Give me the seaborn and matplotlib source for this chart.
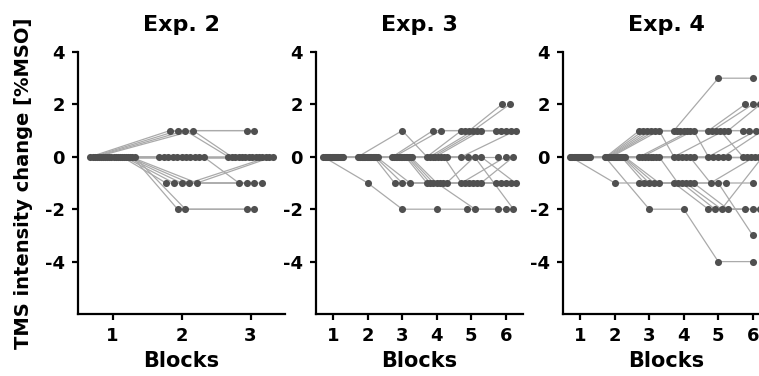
import numpy as np
import pandas as pd
import seaborn as sns
import matplotlib.pyplot as plt

# one row per subject, one value per block (change in %MSO)
EXP2_SUBJECTS = [
    [0, 1, 1], [0, 1, 1], [0, 1, 0], [0, 1, 0],
    [0, 0, 0], [0, 0, 0], [0, 0, 0], [0, 0, 0], [0, 0, 0],
    [0, 0, 0], [0, 0, 0], [0, 0, 0], [0, 0, 0], [0, 0, 0],
    [0, 0, -1],
    [0, -1, -1], [0, -1, -1], [0, -1, -1], [0, -1, 0], [0, -1, 0],
    [0, -2, -2], [0, -2, -2],
]
EXP3_SUBJECTS = [
    [0, -1, -2, -2, -2, -2],
    [0, 0, 1, 0, 1, 1],
    [0, 0, 0, 1, 1, 1],
    [0, 0, 0, 1, 1, 2],
    [0, 0, 0, 0, 1, 2],
    [0, 0, 0, 0, 1, 1],
    [0, 0, 0, 0, 1, 1],
    [0, 0, 0, 0, 0, 1],
    [0, 0, 0, 0, 0, 0],
    [0, 0, 0, 0, -1, 0],
    [0, 0, 0, -1, -1, -1],
    [0, 0, 0, -1, -1, -1],
    [0, 0, 0, -1, -1, -1],
    [0, 0, 0, -1, -2, -2],
    [0, 0, -1, -1, -1, -1],
    [0, 0, -1, -1, -1, 0],
    [0, 0, -1, -1, 0, -2],
    [0, 0, 0, 0, 0, -1],
]
EXP4_SUBJECTS = [
    [0, -1, -1, -1, -2, -2],
    [0, 0, -2, -2, -4, -4],
    [0, 0, 1, 1, 3, 3],
    [0, 0, 1, 1, 1, 2],
    [0, 0, 1, 1, 1, 2],
    [0, 0, 1, 1, 1, 1],
    [0, 0, 1, 1, 1, 0],
    [0, 0, 1, 0, 1, 1],
    [0, 0, 0, 1, 1, 2],
    [0, 0, 0, 1, 0, 1],
    [0, 0, 0, 0, 0, 0],
    [0, 0, 0, 0, 0, 0],
    [0, 0, 0, 0, 0, 1],
    [0, 0, 0, 0, -1, 0],
    [0, 0, 0, 0, 0, 0],
    [0, 0, 0, -1, -1, -3],
    [0, 0, -1, -1, -2, -2],
    [0, 0, -1, -1, -2, 0],
    [0, 0, -1, -1, -1, -1],
    [0, 0, -1, -1, -2, -2],
]
TITLES = ["Exp. 2", "Exp. 3", "Exp. 4"]
Y_TICKS = [-4, -2, 0, 2, 4]


def to_long(subjects):
    rows = []
    for s, vals in enumerate(subjects):
        for b, v in enumerate(vals, start=1):
            rows.append({"subject": s, "block": b, "change": v})
    return pd.DataFrame(rows)


def spread(df, gap, span):
    # put subjects with the same value side by side around the block
    df = df.copy()
    df["x"] = df["block"].astype(float)
    for (b, v), grp in df.groupby(["block", "change"]):
        k = len(grp)
        if k > 1:
            step = min(gap, span / (k - 1))
            df.loc[grp.index, "x"] = b + (np.arange(k) - (k - 1) / 2) * step
    return df


sns.set_theme(style="ticks")
plt.rcParams["font.family"] = ["DejaVu Sans"]
plt.rcParams["font.weight"] = "bold"
plt.rcParams["text.color"] = "black"
plt.rcParams["axes.labelcolor"] = "black"
plt.rcParams["axes.unicode_minus"] = False

fig = plt.figure(figsize=(7.59, 3.76), dpi=100)
W, H = 759, 376
panels = [
    (EXP2_SUBJECTS, 78, 0.112, 0.64),
    (EXP3_SUBJECTS, 316, 0.223, 0.57),
    (EXP4_SUBJECTS, 563, 0.223, 0.57),
]

for i, (subjects, left, gap, span) in enumerate(panels):
    ax = fig.add_axes([left / W, (H - 314) / H, 207 / W, 262 / H])
    d = spread(to_long(subjects), gap, span)
    nblocks = len(subjects[0])

    sns.lineplot(data=d, x="x", y="change", units="subject", estimator=None,
                 color="#aaaaaa", linewidth=0.9, ax=ax, zorder=1)
    sns.scatterplot(data=d, x="x", y="change", color="#505050", s=26,
                    linewidth=0, ax=ax, zorder=3, clip_on=False)

    ax.set_xlim(0.5, nblocks + 0.5)
    ax.set_ylim(-6, 4)
    ax.set_xticks(range(1, nblocks + 1))
    ax.set_yticks(Y_TICKS)
    ax.set_xticklabels([str(b) for b in range(1, nblocks + 1)])
    sns.despine(ax=ax)
    for sp in ["left", "bottom"]:
        ax.spines[sp].set_linewidth(1.6)
        ax.spines[sp].set_color("black")
    ax.tick_params(width=1.6, length=4.5, color="black", labelsize=13,
                   labelcolor="black")
    ax.tick_params(axis="y", pad=5)
    ax.tick_params(axis="x", pad=5)
    for lab in ax.get_xticklabels() + ax.get_yticklabels():
        lab.set_fontweight("bold")

    ax.set_title(TITLES[i], fontsize=16, fontweight="bold", pad=15,
                 color="black")
    ax.set_xlabel("Blocks", fontsize=15, fontweight="bold", labelpad=4)
    if i == 0:
        ax.set_ylabel("TMS intensity change [%MSO]", fontsize=14,
                      fontweight="bold")
        ax.yaxis.set_label_coords(-0.217, 0.5)
    else:
        ax.set_ylabel("")

fig.savefig("out.png", dpi=100)
